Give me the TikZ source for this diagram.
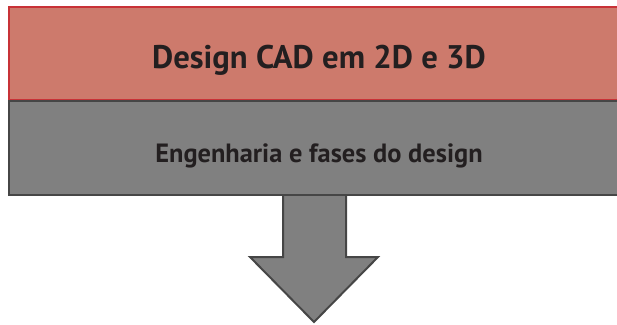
\documentclass[tikz,border=0pt]{standalone}
\usepackage{fontspec}
\setmainfont{PT Sans}
\definecolor{vermelhofundo}{RGB}{205,122,108}
\definecolor{vermelhoborda}{RGB}{200,50,55}
\definecolor{cinzafundo}{RGB}{128,128,128}
\definecolor{cinzaborda}{RGB}{70,70,70}
\definecolor{texto}{RGB}{35,31,32}

\begin{document}
\begin{tikzpicture}[x=1pt,y=1pt,
    caixa/.style={draw,line width=2pt,minimum width=620pt,minimum height=93pt,
        anchor=north west,inner sep=0pt,text=texto,text height=31pt,text depth=0pt}]
    \useasboundingbox (0,0) rectangle (617,324);

    \node[caixa,draw=vermelhoborda,fill=vermelhofundo,
        font=\fontsize{32.7}{36}\selectfont\bfseries] (cad) at (8,318) {Design CAD em 2D e 3D};

    \node[caixa,draw=cinzaborda,fill=cinzafundo,minimum height=94pt,text height=30pt,
        font=\fontsize{26.4}{30}\selectfont\bfseries] (eng) at (8,224) {Engenharia e fases do design};

    \draw[draw=cinzaborda,fill=cinzafundo,line width=2pt,line join=miter]
        (283,0 |- eng.south) -- (283,67) -- (250,67) -- (314,2) -- (378,67) -- (346,67) -- (346,0 |- eng.south);

\end{tikzpicture}
\end{document}
